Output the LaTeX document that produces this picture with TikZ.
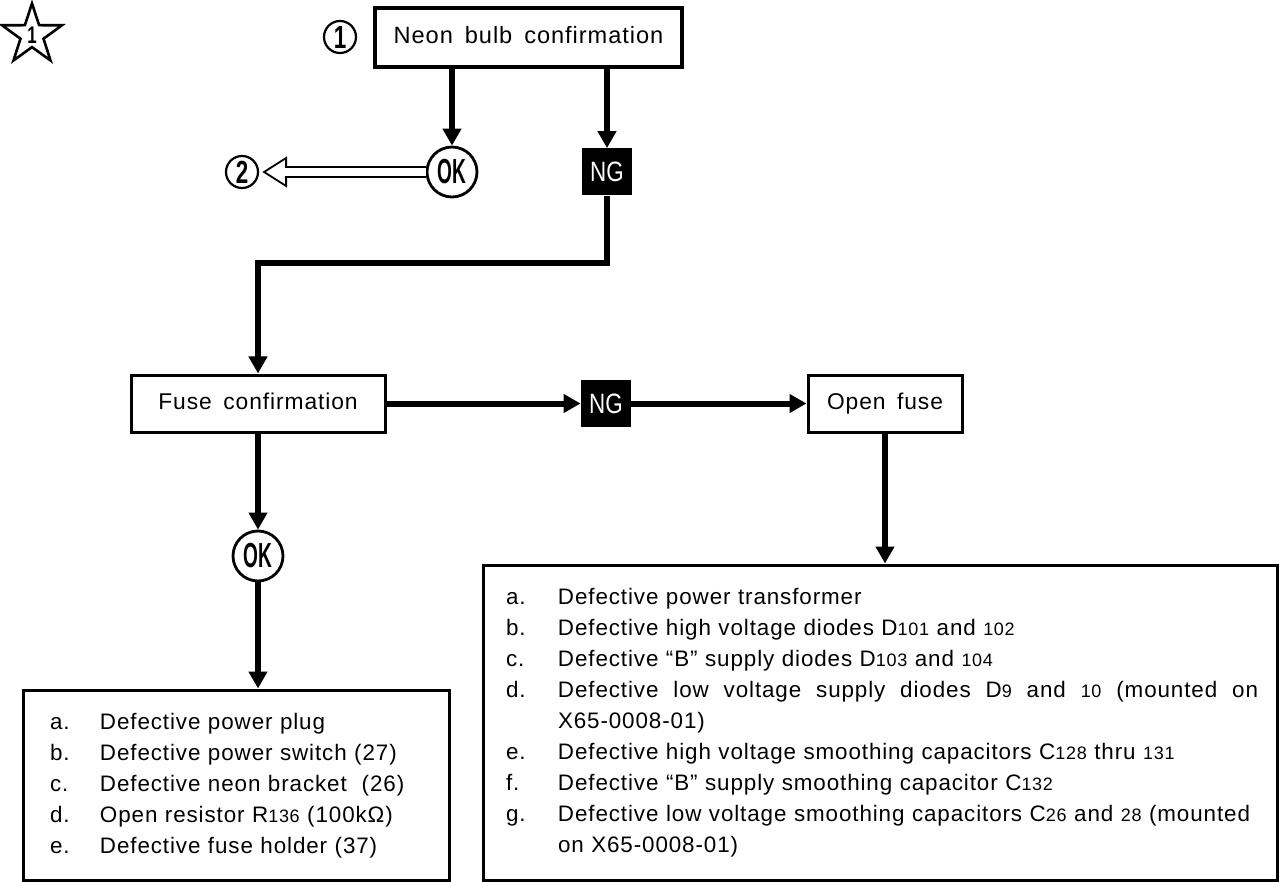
\documentclass[tikz,border=0pt]{standalone}
\usepackage{fontspec}
\setmainfont{Liberation Sans}[LetterSpace=4,WordSpace=1.6]
\newfontfamily\okfont{Liberation Sans}[FakeStretch=0.55]
\newfontfamily\ngfont{Liberation Sans}[FakeStretch=0.8]
\newfontfamily\numfont{Liberation Sans}[FakeStretch=0.7]
\usetikzlibrary{arrows.meta,shapes.geometric,calc}
\newcommand\sub[1]{{\fontsize{9}{9}\selectfont #1}}
\newcommand\fullline[2][350pt]{\makebox[#1][s]{\spaceskip=.2em plus 1fil #2}}
\begin{document}
\begin{tikzpicture}[x=0.5pt, y=-0.5pt,
  flow/.style={line width=3pt, line join=miter, -{Triangle[length=8.5pt,width=9pt]}},
  hbox/.style={draw, line width=1.5pt, inner sep=0pt, text height=8.5pt, text depth=2.5pt, font=\fontsize{11.4}{13}\selectfont},
  okc/.style={circle, draw, line width=1.4pt, minimum size=25pt, inner sep=0pt, font=\okfont\bfseries\fontsize{17.4}{17.4}\selectfont},
  ngb/.style={fill=black, text=white, minimum width=25pt, minimum height=23.5pt, inner sep=0pt, font=\ngfont\fontsize{14}{14}\selectfont},
  numc/.style={circle, draw, line width=1.1pt, minimum size=16pt, inner sep=0pt, font=\numfont\bfseries\fontsize{16}{16}\selectfont},
  cause/.style={draw, line width=1.5pt, inner ysep=0pt, font=\fontsize{11.2}{15.5}\selectfont}]
\useasboundingbox (0,0) rectangle (1280,882);
% star mark
\node[star, star points=5, star point ratio=2.6, draw, line width=1.3pt, minimum size=31.5pt, inner sep=0pt, font=\numfont\bfseries\fontsize{12}{12}\selectfont] (mark) at (32,35) {1};
% first check
\node[numc] (one) at (340,37) {1};
\node[hbox, line width=2.2pt, minimum width=153.5pt, minimum height=29.5pt, font=\fontsize{11.8}{13}\selectfont] (neon) at (528.5,37.5) {Neon bulb confirmation};
\node[okc] (ok1) at (452,172) {OK};
\node[ngb] (ng1) at (607,172) {NG};
\node[numc] (two) at (242,172) {2};
\draw[flow] (neon.south -| ok1) -- (ok1);
\draw[flow] (neon.south -| ng1) -- (ng1);
\draw[line width=0.9pt, fill=white] ($(two.east)+(5,0)$) -- ++(22,-14) -- ++(0,28) -- cycle;
\draw[line width=0.9pt, double distance=3.8pt] ($(two.east)+(26,0)$) -- (ok1.west);
% fuse check
\node[hbox, minimum width=127pt, minimum height=28.5pt] (fuse) at (258,403.5) {Fuse confirmation};
\coordinate (bend) at (258,263);
\draw[flow] (ng1.south) |- (bend) -- (fuse.north);
\node[ngb] (ng2) at (606,403.5) {NG};
\node[hbox, minimum width=77pt, minimum height=28.5pt] (open) at (885,403.5) {Open fuse};
\draw[flow] (fuse) -- (ng2);
\draw[flow] (ng2) -- (open);
\node[okc] (ok2) at (258,556) {OK};
\draw[flow] (fuse) -- (ok2);
% causes
\node[cause, text width=186pt, inner xsep=13.5pt, minimum height=95pt] (causeA) at (236,785) {\noindent\begin{tabular}{@{}p{25pt}@{}l@{}}
a. & Defective power plug\\
b. & Defective power switch (27)\\
c. & Defective neon bracket \ (26)\\
d. & Open resistor R\sub{136} (100kΩ)\\
e. & Defective fuse holder (37)
\end{tabular}};
\draw[flow] (ok2) -- (ok2 |- causeA.north);
\node[cause, text width=379pt, inner xsep=9pt, minimum height=157.5pt] (causeB) at (880,722.5) {\noindent\begin{tabular}{@{\hspace{2.5pt}}p{26pt}@{}p{350.5pt}@{}}
a. & Defective power transformer\\
b. & Defective high voltage diodes D\sub{101} and \sub{102}\\
c. & Defective ``B'' supply diodes D\sub{103} and \sub{104}\\
d. & \fullline{Defective low voltage supply diodes D\sub{9} and \sub{10} (mounted on}\newline X65-0008-01)\\
e. & Defective high voltage smoothing capacitors C\sub{128} thru \sub{131}\\
f. & Defective ``B'' supply smoothing capacitor C\sub{132}\\
g. & \fullline[346pt]{Defective low voltage smoothing capacitors C\sub{26} and \sub{28} (mounted}\newline on X65-0008-01)
\end{tabular}};
\draw[flow] (open) -- (open |- causeB.north);
\end{tikzpicture}
\end{document}
